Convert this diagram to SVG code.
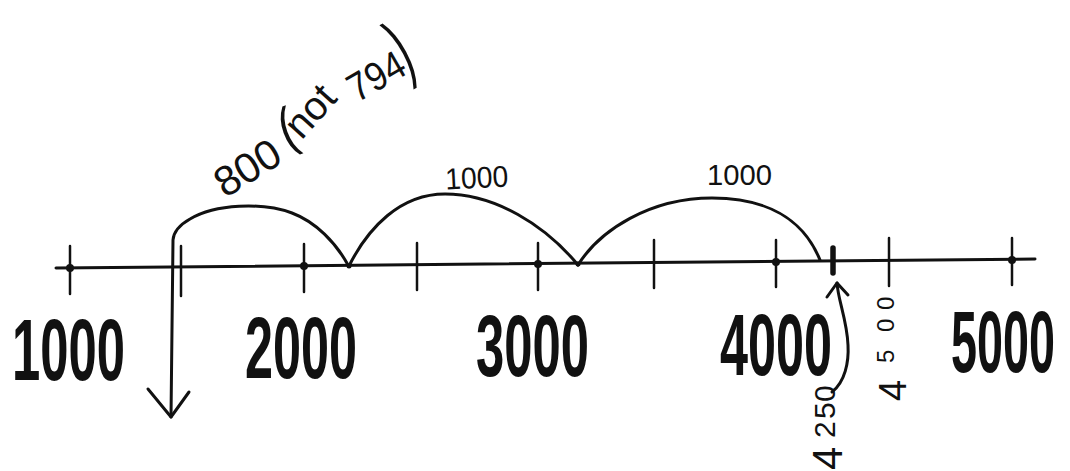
<svg xmlns="http://www.w3.org/2000/svg" width="1070" height="471" viewBox="0 0 1070 471">
<style>
.ln{fill:none;stroke:#111;stroke-width:3;stroke-linecap:round;stroke-linejoin:round}
.tk{fill:none;stroke:#111;stroke-width:2.5;stroke-linecap:round}
.dot{fill:#111}
.big{font-family:"Liberation Sans",Arial,sans-serif;font-weight:bold;font-size:88px;fill:#111}
.hand{font-family:"Liberation Sans",Arial,sans-serif;fill:#111}
</style>
<rect width="1070" height="471" fill="#fff"/>
<g id="number-line">
<path class="ln" d="M56,268 L1035,259"/>
<path class="tk" d="M70,246V294 M181,246V296 M304,244V292 M417,243V290 M538,243V290 M654,240V288 M776,240V287 M889,238V286 M1012,238V285"/>
<path d="M833,248V273" stroke="#111" stroke-width="5.5" stroke-linecap="round"/>
<circle class="dot" cx="70" cy="268" r="4"/>
<circle class="dot" cx="304" cy="266" r="4"/>
<circle class="dot" cx="538" cy="264" r="4"/>
<circle class="dot" cx="776" cy="262" r="4"/>
<circle class="dot" cx="1012" cy="260" r="4"/>
<circle class="dot" cx="349" cy="266" r="2.5"/>
<circle class="dot" cx="578" cy="264" r="2.5"/>
</g>
<g id="axis-labels">
<text class="big" transform="translate(12,380) scale(0.577,1)">1000</text>
<text class="big" transform="translate(245,378) scale(0.572,1)">2000</text>
<text class="big" transform="translate(476,376) scale(0.577,1)">3000</text>
<text class="big" transform="translate(720,375) scale(0.572,1)">4000</text>
<text class="big" transform="translate(951,372) scale(0.531,1)">5000</text>
</g>
<g id="connectors">
<path class="ln" d="M171,417 L173,240 Q174,228 190,219 C215,204 262,202 292,213 C316,222 336,243 348,265"/>
<path class="ln" d="M148,389 L171,417 L189,392"/>
<path class="ln" d="M349,266 C368,228 400,194 445,194 C495,194 545,225 578,265"/>
<path class="ln" d="M578,265 C600,230 650,198 712,198 C765,198 803,218 820,260"/>
<path class="ln" d="M832,392 C845,382 849,362 848,345 C847,320 838,300 837,283"/>
<path class="ln" d="M827,297 L837,283 L848,295"/>
</g>
<g id="jump-labels">
<g id="label-800">
<text class="hand" font-size="42" text-anchor="middle" transform="translate(255,180) rotate(-32)">800</text>
<text class="hand" font-size="55" text-anchor="middle" transform="translate(293,145) rotate(-20) scale(0.8,1)">(</text>
<text class="hand" font-size="40" text-anchor="middle" transform="translate(320,120) rotate(-48)">not</text>
<text class="hand" font-size="40" text-anchor="middle" textLength="60" lengthAdjust="spacingAndGlyphs" transform="translate(383,88) rotate(-30)">794</text>
<text class="hand" font-size="60" text-anchor="middle" transform="translate(412,72) rotate(-28) scale(0.7,1.3)">)</text>
</g>
<text id="label-1000a" class="hand" font-size="30" x="445" y="188" textLength="63" lengthAdjust="spacingAndGlyphs" transform="rotate(-3 476 175)">1000</text>
<text id="label-1000b" class="hand" font-size="30" x="707" y="185" textLength="65" lengthAdjust="spacingAndGlyphs">1000</text>
<text id="label-4250" class="hand" transform="translate(842,470) rotate(-90)"><tspan x="0" font-size="42">4</tspan><tspan x="32 51 68" dy="-7" font-size="30">250</tspan></text>
<text id="label-4500" class="hand" transform="translate(906,401) rotate(-90)"><tspan x="0" font-size="38">4</tspan><tspan x="38 69 91" dy="-12" font-size="24">500</tspan></text>
</g>
</svg>
